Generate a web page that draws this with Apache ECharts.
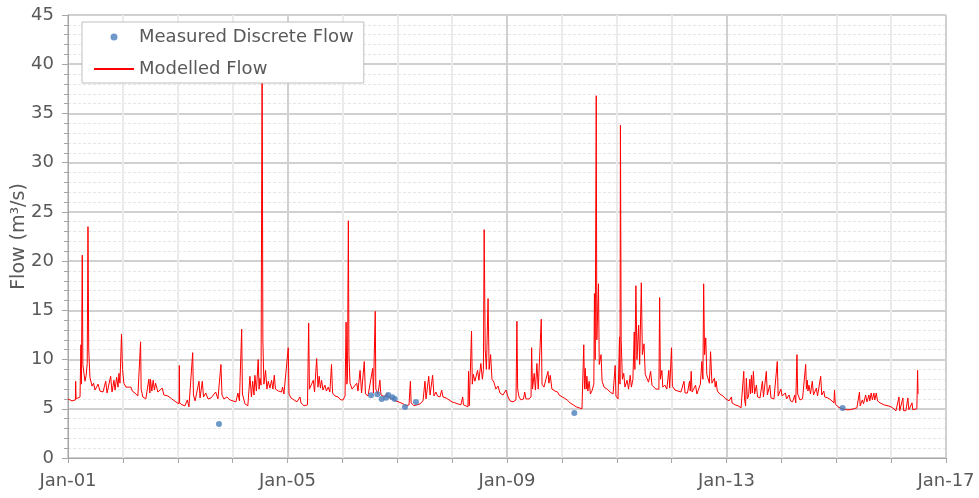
<!DOCTYPE html>
<html>
<head>
<meta charset="utf-8">
<script src="https://cdn.jsdelivr.net/npm/echarts@6/dist/echarts.min.js"></script>
<style>
  html, body { margin: 0; padding: 0; background: #ffffff; }
  #chart { width: 979px; height: 498px; }
</style>
</head>
<body>
<div id="chart"></div>
<script>
// Modelled daily flow (m3/s), recorded as [date, flow] pairs, one array per year
const flow2001 = [['2001-01-01',6.0],['2001-01-14',6.1],['2001-01-28',5.8],['2001-02-19',5.9],['2001-02-21',7.8],['2001-02-24',6.0],['2001-03-09',6.1],['2001-03-22',6.2],['2001-03-28',11.5],['2001-03-31',7.5],['2001-04-06',20.6],['2001-04-10',9.5],['2001-04-17',8.6],['2001-04-24',7.8],['2001-05-02',8.4],['2001-05-09',9.6],['2001-05-14',23.5],['2001-05-19',11.0],['2001-05-27',8.2],['2001-06-10',7.3],['2001-06-20',7.6],['2001-06-30',6.9],['2001-07-20',7.5],['2001-08-02',6.8],['2001-08-22',6.7],['2001-09-09',7.8],['2001-09-18',6.6],['2001-10-12',8.3],['2001-10-21',6.7],['2001-11-03',7.9],['2001-11-10',6.9],['2001-11-21',8.2],['2001-11-30',7.2],['2001-12-06',8.6],['2001-12-13',7.6],['2001-12-23',12.6],['2001-12-30',9.0]];
const flow2002 = [['2002-01-08',7.6],['2002-01-22',7.2],['2002-02-04',7.0],['2002-02-24',7.2],['2002-03-05',6.8],['2002-03-23',6.6],['2002-04-11',6.3],['2002-04-24',6.2],['2002-04-29',11.8],['2002-05-03',7.0],['2002-05-14',6.2],['2002-06-03',6.0],['2002-06-23',8.0],['2002-06-30',6.6],['2002-07-04',8.0],['2002-07-13',6.8],['2002-07-22',7.9],['2002-07-30',6.9],['2002-08-07',7.6],['2002-08-22',6.7],['2002-09-04',6.6],['2002-09-20',7.1],['2002-10-01',6.4],['2002-10-28',6.3],['2002-11-23',6.0],['2002-12-20',5.7]];
const flow2003 = [['2003-01-10',5.5],['2003-01-12',9.4],['2003-01-14',5.6],['2003-01-30',5.4],['2003-02-19',5.3],['2003-03-06',5.9],['2003-03-17',5.2],['2003-03-27',5.3],['2003-04-11',10.7],['2003-04-16',6.4],['2003-04-27',5.8],['2003-05-10',6.0],['2003-05-23',7.8],['2003-05-30',6.1],['2003-06-14',7.8],['2003-06-22',6.2],['2003-07-07',6.6],['2003-07-22',6.0],['2003-08-11',6.1],['2003-08-24',6.2],['2003-09-11',6.7],['2003-09-26',6.0],['2003-10-16',9.5],['2003-10-23',6.4],['2003-11-05',6.0],['2003-11-25',6.2],['2003-12-15',5.9]];
const flow2004 = [['2004-01-04',5.8],['2004-01-24',5.7],['2004-02-06',6.6],['2004-02-16',5.8],['2004-03-02',13.1],['2004-03-07',6.5],['2004-03-24',5.5],['2004-04-12',5.3],['2004-04-26',8.3],['2004-05-06',6.2],['2004-05-14',7.8],['2004-05-23',6.4],['2004-05-29',8.4],['2004-06-08',6.8],['2004-06-20',10.0],['2004-06-26',7.0],['2004-07-01',8.1],['2004-07-09',7.4],['2004-07-16',42.0],['2004-07-21',12.0],['2004-07-28',7.5],['2004-08-08',8.9],['2004-08-17',7.0],['2004-08-26',7.8],['2004-09-06',7.1],['2004-09-17',7.9],['2004-09-26',7.0],['2004-10-05',8.4],['2004-10-13',7.0],['2004-10-21',7.1],['2004-11-02',6.8],['2004-11-12',6.9],['2004-11-22',6.7],['2004-11-29',7.2],['2004-12-08',6.5],['2004-12-21',6.3]];
const flow2005 = [['2005-01-06',11.2],['2005-01-11',6.5],['2005-01-24',6.1],['2005-02-13',5.9],['2005-03-05',5.7],['2005-03-25',6.2],['2005-04-01',5.6],['2005-04-21',5.3],['2005-05-14',5.4],['2005-05-22',13.7],['2005-05-27',7.0],['2005-06-06',6.8],['2005-06-22',7.9],['2005-06-30',6.7],['2005-07-14',10.1],['2005-07-23',7.2],['2005-07-31',8.3],['2005-08-08',7.1],['2005-08-16',7.9],['2005-08-25',6.9],['2005-09-07',7.4],['2005-09-17',6.8],['2005-09-29',7.2],['2005-10-10',6.7],['2005-10-21',9.5],['2005-10-28',6.6],['2005-11-13',6.3],['2005-12-03',6.2],['2005-12-23',5.9]];
const flow2006 = [['2006-01-06',5.9],['2006-01-19',6.3],['2006-01-26',13.8],['2006-01-31',7.5],['2006-02-04',8.0],['2006-02-10',24.1],['2006-02-14',10.5],['2006-02-21',7.6],['2006-03-07',7.0],['2006-03-20',6.8],['2006-04-07',7.6],['2006-04-15',6.8],['2006-04-29',8.9],['2006-05-09',6.6],['2006-05-27',9.8],['2006-06-04',6.5],['2006-06-21',6.3],['2006-07-04',6.4],['2006-07-22',9.1],['2006-07-27',6.6],['2006-08-08',14.9],['2006-08-12',7.0],['2006-08-26',6.5],['2006-09-08',7.9],['2006-09-15',6.4],['2006-10-12',6.2],['2006-10-25',6.6],['2006-11-01',6.2],['2006-11-27',6.0],['2006-12-24',5.8]];
const flow2007 = [['2007-01-06',5.7],['2007-01-26',5.6],['2007-02-09',5.5],['2007-03-01',5.3],['2007-03-21',5.4],['2007-03-30',7.8],['2007-04-04',5.6],['2007-04-23',5.3],['2007-05-13',5.4],['2007-06-02',5.5],['2007-06-22',5.8],['2007-07-05',7.8],['2007-07-12',6.0],['2007-07-22',6.1],['2007-07-30',8.3],['2007-08-08',6.4],['2007-08-18',6.5],['2007-08-25',8.4],['2007-09-03',6.3],['2007-09-16',6.7],['2007-09-26',6.3],['2007-10-13',6.2],['2007-10-24',6.9],['2007-11-02',6.2],['2007-11-22',6.1],['2007-12-12',5.9]];
const flow2008 = [['2008-01-01',5.7],['2008-01-20',5.6],['2008-02-09',5.5],['2008-02-29',5.4],['2008-03-12',6.2],['2008-03-17',5.4],['2008-04-02',5.3],['2008-04-16',5.2],['2008-04-20',8.8],['2008-04-25',5.3],['2008-05-04',5.2],['2008-05-10',12.9],['2008-05-15',7.5],['2008-05-22',8.5],['2008-06-01',7.8],['2008-06-19',8.9],['2008-06-28',7.9],['2008-07-11',9.6],['2008-07-21',8.0],['2008-07-28',9.0],['2008-08-02',23.2],['2008-08-09',11.0],['2008-08-17',9.0],['2008-08-28',16.2],['2008-09-04',9.0],['2008-09-14',10.5],['2008-09-23',8.0],['2008-10-06',7.7],['2008-10-19',7.0],['2008-11-02',7.3],['2008-11-15',6.6],['2008-12-05',6.4],['2008-12-18',6.3],['2008-12-25',6.9]];
const flow2009 = [['2009-01-08',6.2],['2009-01-21',5.8],['2009-02-10',5.7],['2009-03-02',5.9],['2009-03-08',13.9],['2009-03-13',7.0],['2009-03-22',6.2],['2009-04-04',5.9],['2009-04-21',6.0],['2009-04-29',6.7],['2009-05-07',6.0],['2009-05-27',6.0],['2009-06-10',6.2],['2009-06-14',11.2],['2009-06-20',7.0],['2009-07-01',8.6],['2009-07-09',6.9],['2009-07-19',9.6],['2009-07-28',7.0],['2009-08-08',6.8],['2009-08-17',14.1],['2009-08-22',7.5],['2009-09-04',7.2],['2009-09-17',8.0],['2009-10-01',8.8],['2009-10-07',7.6],['2009-10-16',8.4],['2009-10-27',7.0],['2009-11-16',6.8],['2009-12-04',6.7],['2009-12-13',6.4],['2009-12-26',6.3]];
const flow2010 = [['2010-01-16',6.1],['2010-02-05',5.9],['2010-02-25',5.6],['2010-03-17',5.4],['2010-04-06',5.2],['2010-04-25',5.1],['2010-05-15',5.0],['2010-05-22',4.9],['2010-05-27',11.5],['2010-06-01',7.0],['2010-06-06',9.1],['2010-06-12',7.0],['2010-06-17',8.3],['2010-06-23',6.8],['2010-07-02',7.8],['2010-07-10',6.5],['2010-07-20',6.8],['2010-08-02',7.5],['2010-08-06',16.7],['2010-08-11',10.0],['2010-08-18',36.8],['2010-08-22',12.0],['2010-09-02',17.7],['2010-09-07',9.5],['2010-09-19',10.5],['2010-09-26',7.8],['2010-10-09',7.2],['2010-10-29',7.0],['2010-11-18',6.7],['2010-12-08',6.5],['2010-12-22',9.4],['2010-12-27',6.3]];
const flow2011 = [['2011-01-10',6.0],['2011-01-20',12.3],['2011-01-23',7.5],['2011-01-26',33.8],['2011-01-31',12.0],['2011-02-08',8.0],['2011-02-17',8.6],['2011-02-25',7.2],['2011-03-11',7.9],['2011-03-21',7.0],['2011-04-01',8.4],['2011-04-09',7.2],['2011-04-19',8.0],['2011-04-28',12.8],['2011-05-02',9.0],['2011-05-09',17.5],['2011-05-16',10.0],['2011-05-27',13.5],['2011-06-03',9.5],['2011-06-14',17.8],['2011-06-21',10.5],['2011-07-02',11.6],['2011-07-10',8.5],['2011-07-22',8.6],['2011-08-01',7.7],['2011-08-15',8.8],['2011-08-24',7.4],['2011-09-06',7.2],['2011-09-19',7.0],['2011-10-09',7.0],['2011-10-14',16.3],['2011-10-19',8.0],['2011-10-29',8.9],['2011-11-04',7.2],['2011-11-18',7.4],['2011-12-01',7.0],['2011-12-14',8.9],['2011-12-20',7.1]];
const flow2012 = [['2012-01-01',11.2],['2012-01-07',7.3],['2012-01-24',6.9],['2012-02-13',6.8],['2012-03-04',6.7],['2012-03-24',7.8],['2012-03-31',6.6],['2012-04-16',6.6],['2012-04-30',7.8],['2012-05-05',6.8],['2012-05-11',8.8],['2012-05-17',6.7],['2012-05-29',6.6],['2012-06-09',7.4],['2012-06-18',6.5],['2012-07-01',6.6],['2012-07-11',7.5],['2012-07-21',9.8],['2012-07-28',8.0],['2012-08-02',17.7],['2012-08-08',10.5],['2012-08-16',12.2],['2012-08-23',8.5],['2012-08-30',8.3],['2012-09-09',7.6],['2012-09-17',10.8],['2012-09-26',7.6],['2012-10-13',8.1],['2012-10-18',7.2],['2012-10-24',7.8],['2012-11-01',6.8],['2012-11-18',6.5],['2012-12-08',6.3],['2012-12-28',6.0]];
const flow2013 = [['2013-01-18',5.8],['2013-02-03',6.2],['2013-02-07',5.6],['2013-02-27',5.4],['2013-03-19',5.3],['2013-04-08',5.1],['2013-04-21',5.0],['2013-04-26',8.8],['2013-05-01',6.0],['2013-05-08',5.3],['2013-05-13',8.1],['2013-05-20',6.0],['2013-05-28',6.3],['2013-06-05',8.0],['2013-06-10',6.5],['2013-06-16',8.4],['2013-06-22',6.6],['2013-06-29',8.8],['2013-07-07',6.5],['2013-07-19',7.4],['2013-07-27',6.2],['2013-08-12',6.1],['2013-08-28',7.8],['2013-09-04',6.2],['2013-09-23',8.8],['2013-09-30',6.4],['2013-10-16',7.4],['2013-10-24',6.1],['2013-11-13',6.0],['2013-12-05',9.8],['2013-12-11',6.3],['2013-12-29',7.0]];
const flow2014 = [['2014-01-06',6.3],['2014-01-28',6.6],['2014-02-05',6.0],['2014-02-21',6.4],['2014-03-03',5.8],['2014-03-17',5.7],['2014-03-31',6.4],['2014-04-07',5.6],['2014-04-15',10.5],['2014-04-20',6.5],['2014-05-05',5.9],['2014-05-22',6.0],['2014-05-31',6.2],['2014-06-12',9.5],['2014-06-17',7.0],['2014-06-23',7.9],['2014-06-27',6.8],['2014-07-04',7.4],['2014-07-14',6.5],['2014-07-26',7.8],['2014-08-03',6.4],['2014-08-22',7.1],['2014-08-30',6.3],['2014-09-12',6.3],['2014-09-20',8.3],['2014-09-27',6.4],['2014-10-11',6.8],['2014-10-17',6.2],['2014-11-07',6.1],['2014-11-27',5.9],['2014-12-17',5.6],['2014-12-21',6.9],['2014-12-26',5.5]];
const flow2015 = [['2015-01-13',5.2],['2015-02-09',5.0],['2015-03-07',4.9],['2015-04-03',4.9],['2015-04-29',5.0],['2015-05-19',5.1],['2015-06-05',6.7],['2015-06-10',5.3],['2015-06-24',5.9],['2015-07-02',5.5],['2015-07-16',6.4],['2015-07-25',5.7],['2015-08-07',6.4],['2015-08-13',5.8],['2015-08-22',6.6],['2015-08-30',5.9],['2015-09-09',6.6],['2015-09-15',5.9],['2015-09-25',6.6],['2015-10-03',5.8],['2015-10-20',5.6],['2015-11-15',5.4],['2015-12-12',5.3]];
const flow2016 = [['2016-01-01',5.2],['2016-01-20',5.0],['2016-02-03',4.8],['2016-02-23',6.2],['2016-02-28',4.8],['2016-03-07',4.7],['2016-03-20',6.1],['2016-03-25',4.8],['2016-04-09',4.8],['2016-04-22',6.1],['2016-04-29',4.9],['2016-05-20',5.6],['2016-05-25',4.9],['2016-06-07',5.0],['2016-06-21',5.0],['2016-06-26',8.9],['2016-06-29',6.5]];

// Discrete gaugings
const measuredDates = ['2003-10-03','2006-07-11','2006-08-22','2006-09-20','2006-10-19','2006-11-03','2006-11-30','2006-12-16','2007-02-22','2007-05-06','2010-03-25','2015-02-13'];
const measuredValues = [3.45, 6.37, 6.47, 6.0, 6.13, 6.4, 6.17, 6.0, 5.18, 5.69, 4.57, 5.08];

// Axis settings
const yTicks = [0, 5, 10, 15, 20, 25, 30, 35, 40, 45];
const seriesNames = ['Measured Discrete Flow', 'Modelled Flow'];

// The x axis runs in days since 1 Jan 2001; four-year steps (1461 days) land on 1 January
const DAY_MS = 86400000;
const ORIGIN = Date.UTC(2001, 0, 1);
function dayNumber(s) {
  const p = s.split('-').map(Number);
  return (Date.UTC(p[0], p[1] - 1, p[2]) - ORIGIN) / DAY_MS;
}
function dayLabel(v) {
  const d = new Date(ORIGIN + v * DAY_MS);
  return 'Jan-' + String(d.getUTCFullYear() % 100).padStart(2, '0');
}

const modelled = [].concat(flow2001, flow2002, flow2003, flow2004, flow2005, flow2006, flow2007,
  flow2008, flow2009, flow2010, flow2011, flow2012, flow2013, flow2014, flow2015, flow2016)
  .map(r => [dayNumber(r[0]), r[1]]);
const measured = measuredDates.map((d, i) => [dayNumber(d), measuredValues[i]]);

const FONT = 'DejaVu Sans';
const TEXT = '#595959';

const chart = echarts.init(document.getElementById('chart'), null, { renderer: 'canvas' });
chart.setOption({
  animation: false,
  backgroundColor: '#ffffff',
  textStyle: { fontFamily: FONT },
  grid: {
    left: 68, right: 33, top: 15, bottom: 40,
    outerBoundsMode: 'none',
    containLabel: false,
    show: true, borderColor: '#bfbfbf', borderWidth: 1, backgroundColor: 'transparent'
  },
  legend: {
    data: [
      { name: seriesNames[0] },
      // plain line key, without a marker
      { name: seriesNames[1], itemStyle: { opacity: 0 } }
    ],
    orient: 'vertical',
    left: 82, top: 22,
    padding: [5, 10, 4, 11],
    itemWidth: 40, itemHeight: 7, itemGap: 12,
    backgroundColor: '#ffffff',
    borderColor: '#bfbfbf', borderWidth: 1,
    textStyle: { fontSize: 18, color: TEXT, fontFamily: FONT, lineHeight: 20 }
  },
  xAxis: {
    type: 'value',
    min: 0, max: 5844, interval: 1461,
    axisLine: { lineStyle: { color: '#a6a6a6' } },
    axisTick: { show: true, length: 5, lineStyle: { color: '#a6a6a6' } },
    minorTick: { show: true, splitNumber: 4, length: 5, lineStyle: { color: '#a6a6a6' } },
    splitLine: { show: true, lineStyle: { color: '#d0d0d0', width: 2 } },
    minorSplitLine: { show: true, lineStyle: { color: '#ebebeb', width: 2 } },
    axisLabel: { formatter: dayLabel, fontSize: 18, color: TEXT, fontFamily: FONT, margin: 14 }
  },
  yAxis: {
    type: 'value',
    min: yTicks[0], max: yTicks[yTicks.length - 1], interval: 5,
    name: 'Flow (m³/s)',
    nameLocation: 'middle', nameGap: 39,
    nameMoveOverlap: false,
    nameTextStyle: { fontSize: 19, color: TEXT, fontFamily: FONT },
    axisLine: { show: true, lineStyle: { color: '#a6a6a6' } },
    axisTick: { show: true, length: 6, lineStyle: { color: '#a6a6a6' } },
    minorTick: { show: true, splitNumber: 5, length: 4, lineStyle: { color: '#a6a6a6' } },
    splitLine: { show: true, lineStyle: { color: '#d0d0d0', width: 2 } },
    minorSplitLine: { show: true, lineStyle: { color: '#e6e6e6', width: 1, type: [3, 2] } },
    axisLabel: { fontSize: 18, color: TEXT, fontFamily: FONT, margin: 14 }
  },
  series: [
    {
      name: seriesNames[1],
      type: 'line',
      data: modelled,
      symbol: 'none',
      color: '#ff0000',
      lineStyle: { color: '#ff0000', width: 1 },
      z: 2
    },
    {
      name: seriesNames[0],
      type: 'scatter',
      data: measured,
      symbol: 'circle',
      symbolSize: 6,
      color: '#4a7ebb',
      itemStyle: { color: '#4a7ebb' },
      z: 3
    }
  ]
});
</script>
</body>
</html>
